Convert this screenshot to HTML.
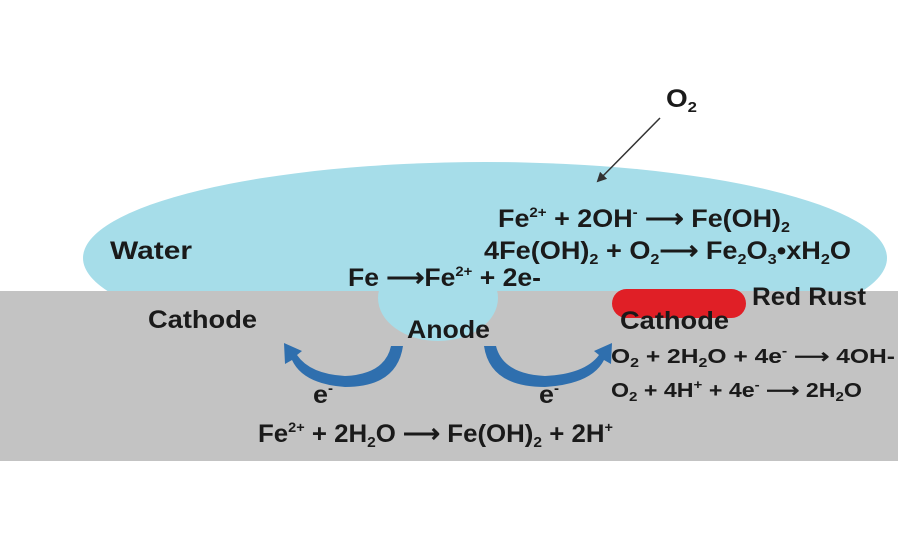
<!DOCTYPE html>
<html><head><style>
body{margin:0;background:#fff}
svg text{font-family:"Liberation Sans",sans-serif;font-weight:bold;fill:#1a1a1a}
</style></head><body>
<svg width="900" height="550" viewBox="0 0 900 550" xmlns="http://www.w3.org/2000/svg">
<defs>
<clipPath id="c"><rect x="0" y="0" width="900" height="292"/></clipPath>
<marker id="ah" markerWidth="10" markerHeight="10" refX="8" refY="5" orient="auto" markerUnits="userSpaceOnUse"><path d="M0,0 L10,5 L0,10 z" fill="#333"/></marker>
</defs>
<ellipse cx="485" cy="258" rx="402" ry="96" fill="#a6dde9" clip-path="url(#c)"/>
<rect x="0" y="291" width="898" height="170" fill="#c3c3c3"/>
<ellipse cx="438" cy="298" rx="60" ry="43" fill="#a6dde9"/>
<rect x="612" y="289" width="134" height="29" rx="14.5" fill="#e01f26"/>
<line x1="660" y1="118" x2="598" y2="181" stroke="#333" stroke-width="1.5" marker-end="url(#ah)"/>
<path d="M403,346 Q397,387 345,387 Q303,384 292,360 L285,364 L284,343 L302,351 L297,355 Q310,374 345,376 Q385,374 391,346 Z" fill="#2f6fae"/>
<path d="M484,346 Q490,387 545,387 Q592,384 604,360 L611,364 L612,343 L594,351 L599,355 Q585,374 545,376 Q503,374 496,346 Z" fill="#2f6fae"/>
<g font-size="25">
<text x="666" y="107" textLength="31" lengthAdjust="spacingAndGlyphs">O<tspan font-size="15" dy="5">2</tspan></text>
<text x="498" y="227" textLength="292" lengthAdjust="spacingAndGlyphs">Fe<tspan font-size="14" dy="-10">2+</tspan><tspan dy="10"> + 2OH</tspan><tspan font-size="14" dy="-10">-</tspan><tspan dy="10"> ⟶ Fe(OH)</tspan><tspan font-size="15" dy="5">2</tspan></text>
<text x="484" y="259" textLength="367" lengthAdjust="spacingAndGlyphs">4Fe(OH)<tspan font-size="15" dy="5">2</tspan><tspan dy="-5"> + O</tspan><tspan font-size="15" dy="5">2</tspan><tspan dy="-5">⟶ Fe</tspan><tspan font-size="15" dy="5">2</tspan><tspan dy="-5">O</tspan><tspan font-size="15" dy="5">3</tspan><tspan dy="-5">•xH</tspan><tspan font-size="15" dy="5">2</tspan><tspan dy="-5">O</tspan></text>
<text x="110" y="259" textLength="82" lengthAdjust="spacingAndGlyphs">Water</text>
<text x="348" y="286" textLength="193" lengthAdjust="spacingAndGlyphs">Fe ⟶Fe<tspan font-size="14" dy="-10">2+</tspan><tspan dy="10"> + 2e-</tspan></text>
<text x="752" y="305" textLength="114" lengthAdjust="spacingAndGlyphs">Red Rust</text>
<text x="148" y="328" textLength="109" lengthAdjust="spacingAndGlyphs">Cathode</text>
<text x="407" y="338" textLength="83" lengthAdjust="spacingAndGlyphs">Anode</text>
<text x="620" y="329" textLength="109" lengthAdjust="spacingAndGlyphs">Cathode</text>
<text x="313" y="403" textLength="20" lengthAdjust="spacingAndGlyphs">e<tspan font-size="14" dy="-10">-</tspan></text>
<text x="539" y="403" textLength="20" lengthAdjust="spacingAndGlyphs">e<tspan font-size="14" dy="-10">-</tspan></text>
<text x="258" y="442" textLength="355" lengthAdjust="spacingAndGlyphs">Fe<tspan font-size="14" dy="-10">2+</tspan><tspan dy="10"> + 2H</tspan><tspan font-size="15" dy="5">2</tspan><tspan dy="-5">O  ⟶ Fe(OH)</tspan><tspan font-size="15" dy="5">2</tspan><tspan dy="-5"> + 2H</tspan><tspan font-size="14" dy="-10">+</tspan></text>
</g>
<g font-size="20">
<text x="611" y="363" textLength="284" lengthAdjust="spacingAndGlyphs">O<tspan font-size="13" dy="4">2</tspan><tspan dy="-4"> + 2H</tspan><tspan font-size="13" dy="4">2</tspan><tspan dy="-4">O + 4e</tspan><tspan font-size="13" dy="-8">-</tspan><tspan dy="8"> ⟶ 4OH-</tspan></text>
<text x="611" y="397" textLength="251" lengthAdjust="spacingAndGlyphs">O<tspan font-size="13" dy="4">2</tspan><tspan dy="-4"> + 4H</tspan><tspan font-size="13" dy="-8">+</tspan><tspan dy="8"> + 4e</tspan><tspan font-size="13" dy="-8">-</tspan><tspan dy="8"> ⟶ 2H</tspan><tspan font-size="13" dy="4">2</tspan><tspan dy="-4">O</tspan></text>
</g>
</svg>
</body></html>
